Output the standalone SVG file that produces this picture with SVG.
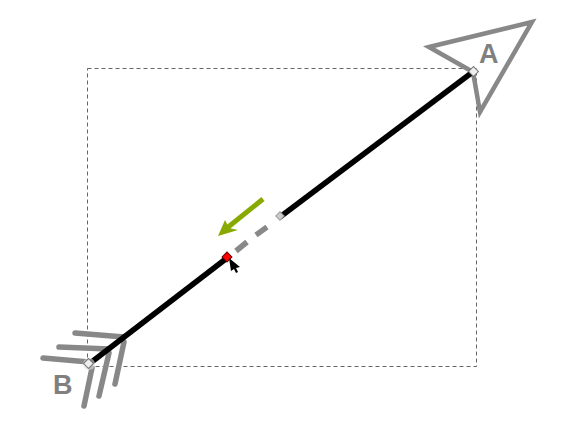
<svg xmlns="http://www.w3.org/2000/svg" width="561" height="434" viewBox="0 0 561 434">
<style>
.g{stroke:#888;stroke-width:5.5;stroke-linecap:round;fill:none}
.lbl{font-family:"Liberation Sans",Arial,sans-serif;font-weight:bold;font-size:27px;fill:#808080}
.h{fill:#eee;stroke:#777;stroke-width:1}
</style>
<rect width="561" height="434" fill="#fff"/>
<rect x="87.5" y="68.5" width="389" height="298" fill="none" stroke="#666" stroke-width="1" stroke-dasharray="4,3"/>
<g id="arrowhead-A">
<polygon points="429,47 532,22 480,112 473,72" fill="none" stroke="#888" stroke-width="4.5" stroke-linejoin="miter"/>
<text class="lbl" x="479" y="63">A</text>
</g>
<g id="tail-B">
<line class="g" x1="75" y1="333" x2="124" y2="337"/>
<line class="g" x1="59" y1="347" x2="109" y2="349"/>
<line class="g" x1="43" y1="358" x2="89" y2="362"/>
<line class="g" x1="124" y1="342" x2="115" y2="384"/>
<line class="g" x1="109" y1="353" x2="99" y2="396"/>
<line class="g" x1="92" y1="368" x2="84" y2="406"/>
<text class="lbl" x="53" y="394">B</text>
</g>
<g id="connectors">
<line x1="89" y1="364" x2="227" y2="258" stroke="#000" stroke-width="5.5"/>
<line x1="280" y1="217" x2="474" y2="71" stroke="#000" stroke-width="5.5"/>
<line x1="236" y1="251" x2="247" y2="242" stroke="#888" stroke-width="5.5"/>
<line x1="256" y1="235" x2="267" y2="227" stroke="#888" stroke-width="5.5"/>
<line x1="263" y1="199" x2="227" y2="228" stroke="#88aa00" stroke-width="5"/>
<polygon points="218,236 225,220 229,228 238,230" fill="#88aa00"/>
</g>
<g id="handles">
<circle cx="89" cy="364" r="6" fill="#ddd" opacity="0.6"/>
<rect class="h" x="85" y="360" width="7" height="7" transform="rotate(45 88.5 363.5)"/>
<rect class="h" x="470" y="68" width="7" height="7" transform="rotate(45 473.5 71.5)"/>
<rect x="277" y="213" width="6" height="6" fill="#ccc" stroke="#999" stroke-width="1" transform="rotate(45 280 216)"/>
<rect x="223.5" y="253.5" width="7" height="7" fill="#f00" stroke="#600" stroke-width="1" transform="rotate(45 227 257)"/>
<polygon points="229,258 240,267 236,268 238,272 236,273 234,269 231,271" fill="#000"/>
</g>
</svg>
